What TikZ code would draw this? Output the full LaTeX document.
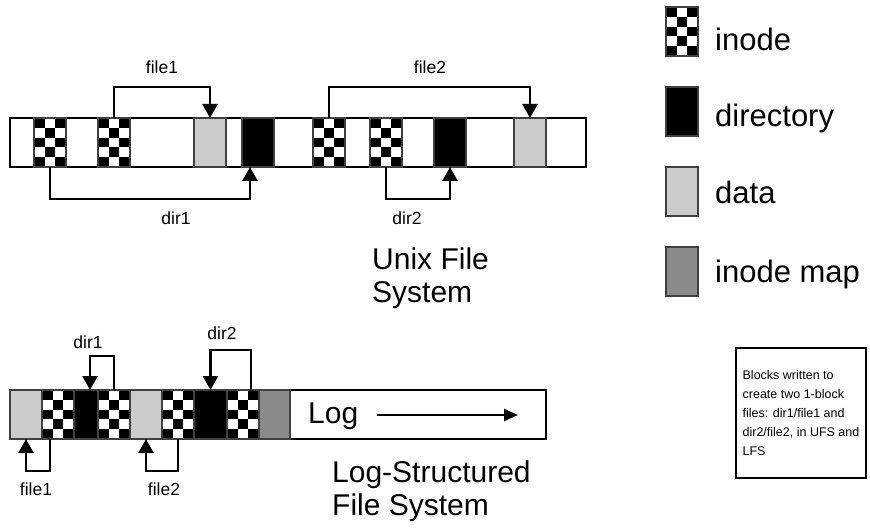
\documentclass[tikz,border=0pt]{standalone}
\usepackage{fontspec}
\setmainfont{Liberation Sans}
\usetikzlibrary{arrows.meta,calc}
\newcommand{\bw}{32}
\newcommand{\bh}{49}
\definecolor{datagray}{HTML}{CBCBCB}
\definecolor{mapgray}{HTML}{8A8A8A}

\begin{document}
\begin{tikzpicture}[x=1pt,y=-1pt,
    strip/.style={draw=black, line width=1.2pt, anchor=north west, minimum height=\bh pt, inner sep=0pt, outer sep=0pt},
    blk/.style={draw=black!75, line width=1.2pt, anchor=north west, minimum width=\bw pt, minimum height=\bh pt, inner sep=0pt, outer sep=0pt},
    dat/.style={blk, fill=datagray},
    dirb/.style={blk, fill=black},
    imap/.style={blk, fill=mapgray},
    inode/.style={blk, path picture={
        \foreach \i in {0,1,2}
          \foreach \j in {0,...,4}{
            \pgfmathtruncatemacro{\odd}{mod(\i+\j,2)}
            \ifnum\odd=0
              \fill[black] ($(path picture bounding box.north west)+(\i*\bw/3,\j*\bh/5)$) rectangle ++(\bw/3,\bh/5);
            \fi
          }}},
    conn/.style={line width=2.5pt, -{Triangle[width=15pt,length=14pt]}},
    lbl/.style={font=\fontsize{17.5}{20}\selectfont, inner sep=0pt},
    big/.style={font=\fontsize{30}{33}\selectfont, align=left, inner sep=0pt, anchor=base west},
    leg/.style={font=\fontsize{31}{34}\selectfont, inner sep=0pt, anchor=base west}]
    \useasboundingbox (0,0) rectangle (870,529);

    % Unix file system
    \node[strip, minimum width=576pt] (ufs) at (10,118) {};
    \node[inode] (u-i1) at (34,118) {};
    \node[inode] (u-i2) at (98,118) {};
    \node[dat] (u-dat1) at (194,118) {};
    \node[dirb] (u-dir1) at (242,118) {};
    \node[inode] (u-i3) at (313,118) {};
    \node[inode] (u-i4) at (370,118) {};
    \node[dirb] (u-dir2) at (434,118) {};
    \node[dat] (u-dat2) at (514,118) {};

    \draw[conn] (u-i2.north) -- ++(0,-31) -| (u-dat1.north);
    \draw[conn] (u-i3.north) -- ++(0,-31) -| (u-dat2.north);
    \draw[conn] (u-i1.south) -- ++(0,32) -| ([xshift=-8pt]u-dir1.south);
    \draw[conn] (u-i4.south) -- ++(0,32) -| (u-dir2.south);

    \node[lbl] (u-file1) at (162,67) {file1};
    \node[lbl] (u-file2) at (430,67) {file2};
    \node[lbl] (u-d1) at (176,218) {dir1};
    \node[lbl] (u-d2) at (407,218) {dir2};
    \node[big] (ufs-title) at (372,303) {Unix File\\System};

    % Log-structured file system
    \node[strip, minimum width=536pt] (lfs) at (10,390) {};
    \node[dat] (l-dat1) at (10,390) {};
    \node[inode] (l-i1) at (42,390) {};
    \node[dirb, minimum width=24pt] (l-dir1) at (74,390) {};
    \node[inode] (l-i2) at (98,390) {};
    \node[dat] (l-dat2) at (130,390) {};
    \node[inode] (l-i3) at (162,390) {};
    \node[dirb, minimum width=33pt] (l-dir2) at (194,390) {};
    \node[inode] (l-i4) at (227,390) {};
    \node[imap, minimum width=31pt] (l-map) at (259,390) {};

    \draw[conn] ([xshift=-8pt]l-i1.south) -- ++(0,32) -| (l-dat1.south);
    \draw[conn] (l-i3.south) -- ++(0,32) -| (l-dat2.south);
    \draw[conn] (l-i2.north) -- ++(0,-34) -| ([xshift=4pt]l-dir1.north);
    \draw[conn] ([xshift=8pt]l-i4.north) -- ++(0,-40) -| (l-dir2.north);

    \node[lbl] (l-d1) at (88,342) {dir1};
    \node[lbl] (l-d2) at (222,333) {dir2};
    \node[lbl] (l-file1) at (36,489) {file1};
    \node[lbl] (l-file2) at (164,489) {file2};

    \node[big, anchor=west] (logtxt) at (308,416) {Log};
    \coordinate (logend) at (518,415);
    \draw[line width=2pt, -{Triangle[width=12pt,length=14pt]}] (377,415) -- (logend);
    \node[big] (lfs-title) at (332,515) {Log-Structured\\File System};

    % legend
    \node[inode] (k-inode) at (666,7) {};
    \node[dirb] (k-dir) at (666,87) {};
    \node[dat] (k-data) at (666,167) {};
    \node[imap] (k-map) at (666,247) {};
    \node[leg] (t-inode) at (715,51) {inode};
    \node[leg] (t-dir) at (715,127) {directory};
    \node[leg] (t-data) at (715,204) {data};
    \node[leg] (t-map) at (715,283) {inode map};

    \node[draw, line width=2.5pt, minimum width=130pt, minimum height=130pt, align=left,
          font=\fontsize{12.5}{19}\selectfont] (note) at (801,413)
          {Blocks written to\\create two 1-block\\files: dir1/file1 and\\dir2/file2, in UFS and\\LFS};
\end{tikzpicture}
\end{document}
